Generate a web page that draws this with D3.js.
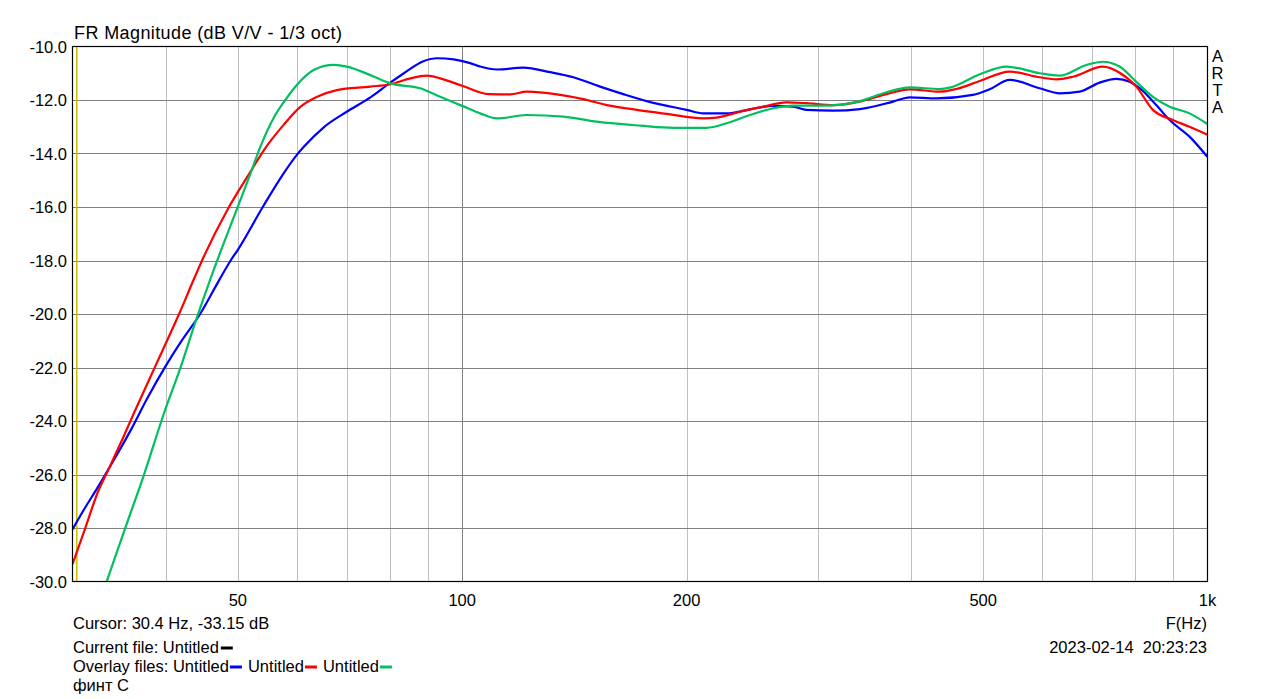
<!DOCTYPE html>
<html><head><meta charset="utf-8">
<script src="https://cdn.jsdelivr.net/npm/d3@7"></script>
<style>
html,body{margin:0;padding:0;background:#fff;}
svg{display:block;font-family:"Liberation Sans",Arial,sans-serif;}
</style></head>
<body>
<svg id="chart" width="1279" height="699"></svg>
<script>
// ---------- data ----------
const yTicks = [-10, -12, -14, -16, -18, -20, -22, -24, -26, -28, -30];
const xTickValues = [50, 100, 200, 500, 1000];
const xTickLabels = ["50", "100", "200", "500", "1k"];
const xGridMinor = [40, 50, 60, 70, 80, 90, 200, 300, 400, 500, 600, 700, 800, 900];
const xGridMajor = [100];

const freqBlue = [30, 31.1, 32.4, 34.1, 35.9, 37.8, 40, 42.1, 44.5, 47.1, 48.9, 50, 54, 57.6, 60, 61.3, 65.2, 70, 75.3, 80.1, 83.5, 88.7, 92.5, 97.4, 102.5, 105.7, 111.3, 120.8, 131.2, 141, 153.1, 164.5, 176.8, 200, 210.6, 226.4, 243.2, 261.4, 278, 289.7, 314.7, 341.7, 378.6, 398.6, 432.8, 484.5, 510.2, 542.8, 595.4, 633.4, 673.6, 716.5, 754.4, 786.1, 810.8, 853.6, 889.5, 946, 1000];
const dbBlue = [-28.05, -27.3, -26.5, -25.45, -24.35, -23.15, -21.95, -20.97, -20.0, -18.78, -18.0, -17.6, -16.0, -14.74, -14.05, -13.75, -13.02, -12.44, -11.9, -11.35, -11.0, -10.55, -10.44, -10.48, -10.62, -10.75, -10.86, -10.79, -10.96, -11.15, -11.5, -11.78, -12.04, -12.37, -12.5, -12.5, -12.35, -12.22, -12.25, -12.37, -12.4, -12.34, -12.06, -11.9, -11.94, -11.81, -11.6, -11.25, -11.56, -11.75, -11.69, -11.35, -11.21, -11.32, -11.56, -12.19, -12.75, -13.37, -14.13];

const freqRed = [30, 31.2, 32.4, 33.7, 35, 36.3, 38.6, 40.4, 41.7, 43.6, 45, 48.4, 52, 54.2, 57.6, 60.7, 63.9, 67.9, 75.3, 80.1, 85.2, 89.7, 93.4, 100, 108.5, 116, 122.1, 134, 145.4, 156.3, 171.5, 188.1, 210.6, 219.5, 235.9, 253.4, 272.4, 289.7, 314.7, 341.7, 371, 398.6, 437.3, 460.4, 494.9, 542.8, 595.4, 626.9, 659.9, 724, 762.1, 802.5, 844.8, 898.5, 946, 1000];
const dbRed = [-29.35, -28.01, -26.7, -25.68, -24.68, -23.68, -22.05, -20.85, -20.0, -18.73, -17.86, -16.11, -14.68, -13.87, -12.93, -12.25, -11.88, -11.63, -11.5, -11.41, -11.19, -11.09, -11.19, -11.47, -11.78, -11.79, -11.69, -11.79, -11.97, -12.19, -12.37, -12.52, -12.69, -12.66, -12.44, -12.25, -12.09, -12.12, -12.19, -12.06, -11.78, -11.6, -11.69, -11.59, -11.29, -10.94, -11.15, -11.23, -11.13, -10.75, -10.98, -11.5, -12.37, -12.75, -13.0, -13.3];

const freqGreen = [30, 33.4, 35.3, 37.4, 39.8, 41.9, 44.1, 46.4, 50, 52, 53.6, 55.8, 57.9, 60, 63.2, 67.2, 70, 75.3, 80.1, 87.8, 93.4, 100, 105.7, 111.3, 122.1, 136.7, 151.5, 173.3, 192.1, 212.8, 226.4, 243.2, 261.4, 278, 305, 341.7, 371, 398.6, 437.3, 451, 494.9, 537.3, 595.4, 633.4, 687.8, 724, 762, 802.5, 844.8, 889.5, 946, 1000];
const dbGreen = [-33.6, -29.94, -28.01, -26.02, -23.71, -21.99, -20.1, -18.36, -15.99, -14.74, -13.75, -12.69, -12.0, -11.44, -10.88, -10.69, -10.75, -11.07, -11.38, -11.56, -11.88, -12.22, -12.5, -12.69, -12.56, -12.62, -12.81, -12.96, -13.04, -13.04, -12.87, -12.56, -12.31, -12.21, -12.21, -12.04, -11.71, -11.53, -11.59, -11.54, -11.04, -10.75, -11.0, -11.09, -10.69, -10.57, -10.75, -11.32, -11.88, -12.25, -12.5, -12.9];

const cursorFreq = 30.4;
const seriesNames = ["Untitled", "Untitled", "Untitled"];
const seriesColors = ["#0000ff", "#ff0000", "#00bf5f"];

// ---------- layout ----------
const svg = d3.select("#chart");
const L = 72.5, R = 1207.5, T = 46.5, B = 581.5;
const x = d3.scaleLog().domain([30, 1000]).range([L, R]);
const y = d3.scaleLinear().domain([-30, -10]).range([B, T]);
const font = "16.5px";

svg.append("defs").append("clipPath").attr("id", "plotclip")
  .append("rect").attr("x", L).attr("y", T).attr("width", R - L).attr("height", B - T);

// grid
const g = svg.append("g");
g.selectAll(".vmin").data(xGridMinor).join("line")
  .attr("x1", d => Math.round(x(d)) + 0.5).attr("x2", d => Math.round(x(d)) + 0.5)
  .attr("y1", T).attr("y2", B).attr("stroke", "#c0c0c0").attr("stroke-width", 1);
g.selectAll(".vmaj").data(xGridMajor).join("line")
  .attr("x1", d => Math.round(x(d)) + 0.5).attr("x2", d => Math.round(x(d)) + 0.5)
  .attr("y1", T).attr("y2", B).attr("stroke", "#808080").attr("stroke-width", 1);
g.selectAll(".h").data(yTicks.slice(1, -1)).join("line")
  .attr("x1", L).attr("x2", R)
  .attr("y1", d => Math.round(y(d)) + 0.5).attr("y2", d => Math.round(y(d)) + 0.5)
  .attr("stroke", "#808080").attr("stroke-width", 1);

// cursor line
svg.append("line").attr("x1", x(cursorFreq)).attr("x2", x(cursorFreq))
  .attr("y1", T).attr("y2", B).attr("stroke", "#c8c000").attr("stroke-width", 1.5);

// curves
const line = d3.line().x(d => x(d[0])).y(d => y(d[1])).curve(d3.curveMonotoneX);
const series = [
  d3.zip(freqBlue, dbBlue),
  d3.zip(freqRed, dbRed),
  d3.zip(freqGreen, dbGreen)
];
const cg = svg.append("g").attr("clip-path", "url(#plotclip)");
series.forEach((s, i) => {
  cg.append("path").attr("d", line(s)).attr("fill", "none")
    .attr("stroke", seriesColors[i]).attr("stroke-width", 2.2).attr("stroke-linejoin", "round");
});

// border
svg.append("rect").attr("x", L).attr("y", T).attr("width", R - L).attr("height", B - T)
  .attr("fill", "none").attr("stroke", "#000").attr("stroke-width", 1.2);

// y axis labels
svg.selectAll(".yl").data(yTicks).join("text")
  .attr("x", 67).attr("y", d => y(d) + 6)
  .attr("text-anchor", "end").attr("font-size", font).attr("fill", "#000")
  .text(d => d3.format(".1f")(d).replace("−", "-"));

// x axis labels
svg.selectAll(".xl").data(xTickValues).join("text")
  .attr("x", d => x(d)).attr("y", 606)
  .attr("text-anchor", "middle").attr("font-size", font).attr("fill", "#000")
  .text((d, i) => xTickLabels[i]);

// title
svg.append("text").attr("x", 74).attr("y", 39).attr("font-size", "18px")
  .attr("textLength", 268).attr("lengthAdjust", "spacing")
  .text("FR Magnitude (dB V/V - 1/3 oct)");

// ARTA
["A", "R", "T", "A"].forEach((c, i) => {
  svg.append("text").attr("x", 1217.5).attr("y", 62 + i * 17).attr("text-anchor", "middle")
    .attr("font-size", font).text(c);
});

// F(Hz) and date
svg.append("text").attr("x", 1207).attr("y", 629).attr("text-anchor", "end").attr("font-size", font).text("F(Hz)");
svg.append("text").attr("x", 1207).attr("y", 653).attr("text-anchor", "end").attr("font-size", font)
  .text("2023-02-14\u00a0\u00a020:23:23");

// footer
svg.append("text").attr("x", 73).attr("y", 629).attr("font-size", font).text("Cursor: 30.4 Hz, -33.15 dB");
const cur = svg.append("text").attr("x", 73).attr("y", 653).attr("font-size", font).text("Current file: Untitled");
const cw = cur.node().getComputedTextLength();
svg.append("line").attr("x1", 73 + cw + 2).attr("x2", 73 + cw + 14).attr("y1", 648).attr("y2", 648)
  .attr("stroke", "#000").attr("stroke-width", 3);

const ov = svg.append("text").attr("x", 73).attr("y", 672).attr("font-size", font).text("Overlay files:\u00a0");
const ox0 = 73 + ov.node().getComputedTextLength();
seriesNames.forEach((n, i) => {
  const sx = ox0 + i * 75;
  const t = svg.append("text").attr("x", sx).attr("y", 672).attr("font-size", font).text(n);
  const ex = sx + t.node().getComputedTextLength();
  svg.append("line").attr("x1", ex + 1).attr("x2", ex + 13).attr("y1", 667).attr("y2", 667)
    .attr("stroke", seriesColors[i]).attr("stroke-width", 3);
});
svg.append("text").attr("x", 73).attr("y", 691).attr("font-size", font).text("финт С");
</script>
</body></html>
